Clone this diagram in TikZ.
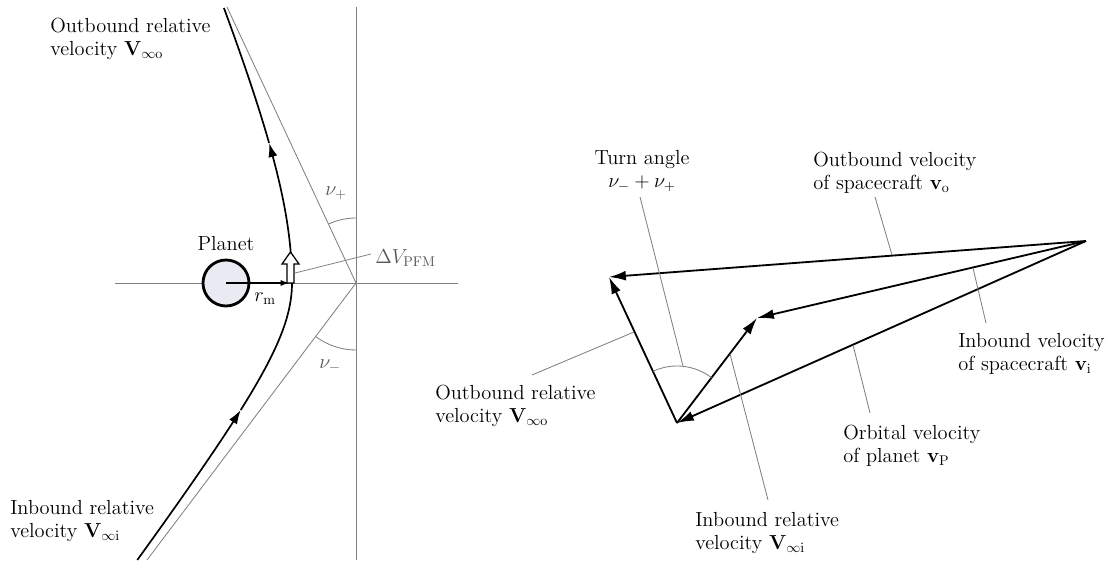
\documentclass[tikz,border=0pt]{standalone}
\usepackage{amsmath,amssymb}
\usetikzlibrary{arrows.meta,calc}

\colorlet{thingray}{black!50}
\colorlet{labgray}{black!65}
\definecolor{planetfill}{RGB}{234,234,242}

\tikzset{
  lbl/.style={inner sep=0pt, font=\fontsize{14.5}{16.5}\selectfont, align=left},
  thinln/.style={draw=thingray, line width=0.6pt},
  vec/.style={line width=1.3pt, -{Latex[length=12pt,width=7pt]}},
  traj/.style={line width=1.2pt},
  trajtip/.style={-{Latex[length=10pt,width=6.5pt]}},
}

\begin{document}
\begin{tikzpicture}[x=0.025cm,y=-0.025cm]
  \useasboundingbox (0,0) rectangle (1113,563);

  % planet frame: asymptotes cross at O
  \coordinate (O)   at (356,283);
  \coordinate (P)   at (226,283);
  \coordinate (axL) at (115,283);
  \coordinate (axR) at (458,283);
  \coordinate (axT) at (356,7);
  \coordinate (axB) at (356,560);
  \coordinate (asO) at (227,7);
  \coordinate (asI) at (147,560);
  \coordinate (peri) at (289,283);

  \draw[thinln] (axL) -- (axR);
  \draw[thinln] (axT) -- (axB);
  \draw[thinln] (O) -- (asO);
  \draw[thinln] (O) -- (asI);
  \draw[thinln] (O) ++(-90:65) arc[start angle=-90, end angle=-115, radius=65];
  \draw[thinln] (O) ++(90:67) arc[start angle=90, end angle=127, radius=67];

  % hyperbolic path, inbound branch then outbound branch
  \draw[traj,trajtip] plot[domain=-277:-127, samples=30]
    ({356-10*sqrt(40.96+(0.0755*\x)*(0.0755*\x))}, {283-\x});
  \draw[traj,trajtip] plot[domain=-127:0, samples=30]
    ({356-10*sqrt(40.96+(0.0755*\x)*(0.0755*\x))}, {283-\x})
    -- plot[domain=0:140, samples=30]
    ({356-10*sqrt(40.96+(0.042*\x)*(0.042*\x))}, {283-\x});
  \draw[traj] plot[domain=140:275, samples=30]
    ({356-10*sqrt(40.96+(0.042*\x)*(0.042*\x))}, {283-\x});

  \draw[line width=2pt, fill=planetfill] (P) circle[radius=23];
  \draw[line width=1.1pt, -{Latex[length=6pt,width=4.5pt]}] (P) -- (peri);

  % powered flyby manoeuvre
  \draw[line width=0.9pt, fill=white]
    (287,283) -- (287,264) -- (282,264) -- (290.5,252) -- (299,264)
    -- (294,264) -- (294,283) -- cycle;
  \coordinate (dvA) at (295,273);
  \coordinate (dvB) at (371,254);
  \draw[thinln] (dvA) -- (dvB);

  \node[lbl, anchor=north west] (outrelL) at (50,18)
    {Outbound relative\\velocity $\mathbf{V}_{\infty\mathrm{o}}$};
  \node[lbl, anchor=north west] (inrelL) at (10,500)
    {Inbound relative\\velocity $\mathbf{V}_{\infty\mathrm{i}}$};
  \node[lbl] (planet) at (226,244) {Planet};
  \node[lbl] (rm) at (265,299) {$r_{\mathrm{m}}$};
  \node[lbl, text=labgray, anchor=west] (dv) at (375,258) {$\Delta V_{\mathrm{PFM}}$};
  \node[lbl, text=labgray] (nup) at (336,193) {$\nu_+$};
  \node[lbl, text=labgray] (num) at (330,366) {$\nu_-$};

  % velocity triangle
  \coordinate (A) at (677,423);
  \coordinate (B) at (1086,241);
  \coordinate (C) at (609,277);
  \coordinate (D) at (757,318);

  \draw[vec] (B) -- (C);
  \draw[vec] (B) -- (D);
  \draw[vec] (B) -- (A);
  \draw[vec] (A) -- (C);
  \draw[vec] (A) -- (D);
  \draw[thinln] (A) ++(-52.7:57) arc[start angle=-52.7, end angle=-115, radius=57];

  \node[lbl, align=center] (turn) at (642,171) {Turn angle\\$\nu_- + \nu_+$};
  \node[lbl, anchor=north west] (vo) at (813,152)
    {Outbound velocity\\of spacecraft $\mathbf{v}_{\mathrm{o}}$};
  \node[lbl, anchor=north west] (vi) at (958,333)
    {Inbound velocity\\of spacecraft $\mathbf{v}_{\mathrm{i}}$};
  \node[lbl, anchor=north west] (vp) at (843,425)
    {Orbital velocity\\of planet $\mathbf{v}_{\mathrm{P}}$};
  \node[lbl, anchor=north west] (inrelR) at (695,512)
    {Inbound relative\\velocity $\mathbf{V}_{\infty\mathrm{i}}$};
  \node[lbl, anchor=north west] (outrelR) at (435,385)
    {Outbound relative\\velocity $\mathbf{V}_{\infty\mathrm{o}}$};

  % leader lines
  \coordinate (turnA) at (640,197);  \coordinate (turnB) at (683,366);
  \coordinate (voA) at (875,197);    \coordinate (voB) at (892,255);
  \coordinate (viA) at (973,268);    \coordinate (viB) at (986,323);
  \coordinate (vpA) at (853,345);    \coordinate (vpB) at (870,413);
  \coordinate (irA) at (730,354);    \coordinate (irB) at (768,500);
  \coordinate (orA) at (634,332);    \coordinate (orB) at (532,375);
  \foreach \a/\b in {turnA/turnB,voA/voB,viA/viB,vpA/vpB,irA/irB,orA/orB}
    \draw[thinln] (\a) -- (\b);
\end{tikzpicture}
\end{document}
